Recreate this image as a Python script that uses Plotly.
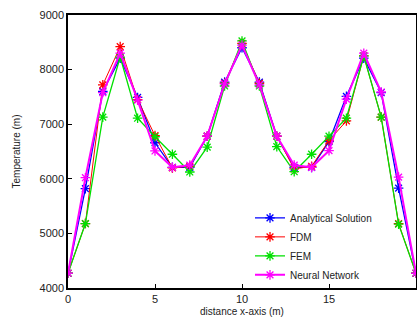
import plotly.graph_objects as go

x_pos = list(range(0, 21))
analytical = [4270, 5820, 7600, 8210, 7490, 6660, 6210, 6210, 6780, 7770, 8400,
              7770, 6780, 6210, 6210, 6680, 7510, 8210, 7580, 5830, 4270]
fdm = [4270, 5180, 7720, 8420, 7450, 6790, 6200, 6230, 6780, 7750, 8480,
       7750, 6780, 6180, 6230, 6700, 7060, 8250, 7130, 5180, 4270]
fem = [4270, 5180, 7130, 8230, 7110, 6770, 6450, 6125, 6580, 7700, 8525,
       7700, 6590, 6130, 6450, 6780, 7110, 8250, 7130, 5170, 4270]
neural = [4270, 6020, 7580, 8300, 7440, 6510, 6210, 6250, 6780, 7740, 8450,
          7720, 6780, 6250, 6210, 6515, 7460, 8300, 7590, 6030, 4270]

series_names = ["Analytical Solution", "FDM", "FEM", "Neural Network"]
series_values = [analytical, fdm, fem, neural]
colors = ["#0000ff", "#ff0000", "#00e000", "#ff00ff"]
widths = [1.3, 1.0, 1.3, 2.0]

x_ticks = [0, 5, 10, 15, 20]
y_ticks = [4000, 5000, 6000, 7000, 8000, 9000]

fig = go.Figure()
for name, vals, c, w in zip(series_names, series_values, colors, widths):
    fig.add_trace(go.Scatter(
        x=x_pos, y=vals, name=name, mode="lines+markers",
        line=dict(color=c, width=w),
        marker=dict(symbol="asterisk-open", size=8, color=c,
                    line=dict(color=c, width=1.3)),
    ))

axis_common = dict(
    showline=True, linecolor="black", linewidth=1.5, mirror=True,
    ticks="inside", ticklen=4, tickcolor="black", showgrid=False,
    zeroline=False, tickfont=dict(family="Liberation Sans, Arial", size=11, color="#222"),
)

fig.update_layout(
    width=417, height=320,
    margin=dict(l=68, r=1, t=15, b=32, autoexpand=False),
    paper_bgcolor="white", plot_bgcolor="white",
    font=dict(family="Liberation Sans, Arial", size=11, color="#222"),
    xaxis=dict(range=[0, 20], tickvals=x_ticks, automargin=False,
               title=dict(text="distance x-axis (m)", font=dict(size=10), standoff=4),
               **axis_common),
    yaxis=dict(range=[4000, 9000], tickvals=y_ticks, automargin=False,
               title=dict(text="Temperature (m)", font=dict(size=10), standoff=17),
               **axis_common),
    legend=dict(x=0.523, y=0.31, xanchor="left", yanchor="top",
                bgcolor="rgba(255,255,255,0)", borderwidth=0,
                font=dict(size=10), tracegroupgap=0),
    showlegend=True,
)

fig.write_html(
    "out.html",
    config={"displayModeBar": False},
    post_script=("document.body.style.margin='0px';"
                 "document.body.style.overflow='hidden';"
                 "document.documentElement.style.overflow='hidden';"),
)
